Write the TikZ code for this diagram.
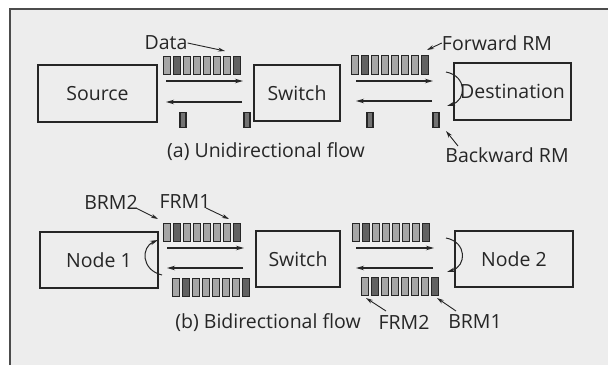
\documentclass[tikz,border=0pt]{standalone}
\usepackage{fontspec}
\setmainfont{Open Sans}
\usetikzlibrary{arrows.meta,calc}
\begin{document}
\begin{tikzpicture}[x=1pt,y=-1pt,
  box/.style={draw=black!85,line width=1.1pt,inner sep=0pt,font=\fontsize{19.5}{21}\selectfont,text=black!85},
  lbl/.style={inner sep=0pt,font=\fontsize{19.5}{21}\selectfont,text=black!85},
  cell/.style={draw=black!85,line width=1.1pt,fill=black!35,minimum width=7.5pt,minimum height=18.5pt,inner sep=0pt},
  dcell/.style={cell,fill=black!62},
  rmcell/.style={draw=black!85,line width=1.1pt,fill=black!55,minimum width=6pt,minimum height=15.5pt,inner sep=0pt},
  flow/.style={line width=1.2pt,draw=black!85,-{Stealth[length=8pt,width=4.5pt]}},
  pnt/.style={line width=0.9pt,draw=black!85,-{Stealth[length=7pt,width=4pt]}}]
\useasboundingbox (0,0) rectangle (608,365);
\fill[black!7] (10,9) rectangle (608,365);
\draw[black!70,line width=1.3pt] (10,365) -- (10,9) -- (608,9);

% ---------- (a) ----------
\node[box,minimum width=119pt,minimum height=57pt] (src) at (97.5,93.5) {Source};
\node[box,minimum width=86pt,minimum height=56pt] (swa) at (297,93) {Switch};
\node[box,minimum width=117pt,minimum height=57pt] (dst) at (512.5,91.5) {Destination};

\foreach \i in {1,...,8}{
  \ifnum\i=2 \def\st{dcell}\else\ifnum\i=8 \def\st{dcell}\else\def\st{cell}\fi\fi
  \node[\st] (qa\i) at ({167+10*(\i-1)},65.5) {};
  \node[\st] (qb\i) at ({355+10*(\i-1)},65) {};
}
\node[rmcell] (ra1) at (183,120) {};
\node[rmcell] (ra2) at (247,120) {};
\node[rmcell] (ra3) at (370,120) {};
\node[rmcell] (ra4) at (436,120) {};

\coordinate (a1s) at (166,81);  \coordinate (a1e) at (243,81);
\coordinate (a2s) at (242,102); \coordinate (a2e) at (166,102);
\coordinate (a3s) at (356,81);  \coordinate (a3e) at (433,81);
\coordinate (a4s) at (432,101); \coordinate (a4e) at (356,101);
\draw[flow] (a1s) -- (a1e);
\draw[flow] (a2s) -- (a2e);
\draw[flow] (a3s) -- (a3e);
\draw[flow] (a4s) -- (a4e);

\coordinate (ca1) at (446,72); \coordinate (ca2) at (447,106);
\draw[flow,line width=1pt] (ca1) .. controls (467,76) and (467,100) .. (ca2);

\node[lbl] (data) at (166,43) {Data};
\coordinate (datat) at (225,51);
\draw[pnt] (data.east) -- (datat);
\node[lbl] (frm) at (497,43) {Forward RM};
\coordinate (frmt) at (427,50);
\draw[pnt] (frm.west) -- (frmt);
\node[lbl] (brm) at (507,155) {Backward RM};
\coordinate (brms) at (458,146); \coordinate (brmt) at (446,131);
\draw[pnt] (brms) -- (brmt);

\node[lbl] (capa) at (266,152) {(a) Unidirectional flow};

% ---------- (b) ----------
\node[box,minimum width=118pt,minimum height=56pt] (n1) at (99,260) {Node 1};
\node[box,minimum width=84pt,minimum height=56pt] (swb) at (298,259) {Switch};
\node[box,minimum width=118pt,minimum height=56pt] (n2) at (514,259) {Node 2};

\foreach \i in {1,...,8}{
  \ifnum\i=2 \def\st{dcell}\else\ifnum\i=8 \def\st{dcell}\else\def\st{cell}\fi\fi
  \node[\st] (qc\i) at ({167+10*(\i-1)},232.5) {};
  \node[\st] (qd\i) at ({176+10*(\i-1)},287.5) {};
  \node[\st] (qe\i) at ({356+10*(\i-1)},232.5) {};
  \node[\st] (qf\i) at ({365+10*(\i-1)},286.5) {};
}

\coordinate (b1s) at (167,248); \coordinate (b1e) at (244,248);
\coordinate (b2s) at (243,268); \coordinate (b2e) at (167,268);
\coordinate (b3s) at (356,248); \coordinate (b3e) at (434,248);
\coordinate (b4s) at (433,268); \coordinate (b4e) at (356,268);
\draw[flow] (b1s) -- (b1e);
\draw[flow] (b2s) -- (b2e);
\draw[flow] (b3s) -- (b3e);
\draw[flow] (b4s) -- (b4e);

\coordinate (cb1) at (162,275); \coordinate (cb2) at (158,240);
\draw[flow,line width=1pt] (cb1) .. controls (141,270) and (141,247) .. (cb2);
\coordinate (cc1) at (446,238); \coordinate (cc2) at (447,272);
\draw[flow,line width=1pt] (cc1) .. controls (467,242) and (467,266) .. (cc2);

\node[lbl] (brm2) at (111,202) {BRM2};
\node[lbl] (frm1) at (185,202) {FRM1};
\node[lbl] (frm2) at (404,322) {FRM2};
\node[lbl] (brm1) at (475,322) {BRM1};
\coordinate (brm2s) at (136,208); \coordinate (brm2t) at (158,219);
\coordinate (frm1s) at (206,208); \coordinate (frm1t) at (229,219);
\coordinate (frm2s) at (386,311); \coordinate (frm2t) at (366,298);
\coordinate (brm1s) at (456,311); \coordinate (brm1t) at (437,298);
\draw[pnt] (brm2s) -- (brm2t);
\draw[pnt] (frm1s) -- (frm1t);
\draw[pnt] (frm2s) -- (frm2t);
\draw[pnt] (brm1s) -- (brm1t);

\node[lbl] (capb) at (268,323) {(b) Bidirectional flow};
\end{tikzpicture}
\end{document}
